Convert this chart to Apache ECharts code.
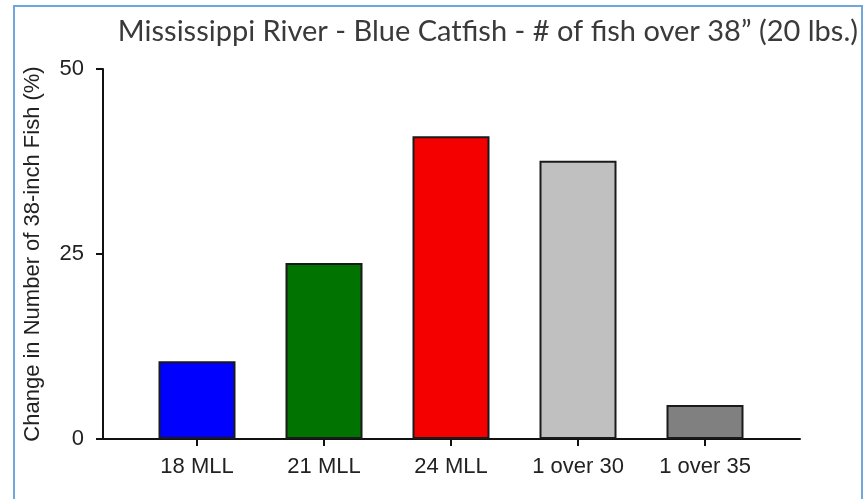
<!DOCTYPE html>
<html>
<head>
<meta charset="utf-8">
<script src="https://cdn.jsdelivr.net/npm/echarts@6/dist/echarts.min.js"></script>
<style>
  html, body { margin: 0; padding: 0; background: #fff; }
  #chart { width: 864px; height: 499px; }
</style>
</head>
<body>
<div id="chart"></div>
<script>
var categories = ['18 MLL', '21 MLL', '24 MLL', '1 over 30', '1 over 35'];
var values = [10.5, 23.8, 40.9, 37.6, 4.6];
var barColors = ['#0000ff', '#007300', '#f50000', '#c0c0c0', '#808080'];
var yTicks = [0, 25, 50];

var dom = document.getElementById('chart');
var myChart = echarts.init(dom, null, { renderer: 'canvas' });

var option = {
  animation: false,
  title: {
    text: 'Mississippi River - Blue Catfish - # of fish over 38\u201D (20 lbs.)',
    right: 1,
    top: 12,
    textStyle: {
      fontFamily: 'Lato',
      fontWeight: 'normal',
      fontSize: 29,
      color: '#3a3a3a'
    }
  },
  graphic: [{
    type: 'rect',
    shape: { x: 14, y: 6, width: 848, height: 520 },
    style: { fill: 'none', stroke: '#6ea6e0', lineWidth: 2 },
    silent: true
  }],
  grid: [
    { left: 103, right: 64, top: 69, bottom: 60 },
    { left: 133.5, right: 95.5, top: 69, bottom: 60 }
  ],
  xAxis: [{
    gridIndex: 0,
    type: 'value',
    min: 0,
    max: 1,
    axisLine: { show: true, lineStyle: { color: '#111', width: 2 } },
    axisTick: { show: false },
    axisLabel: { show: false },
    splitLine: { show: false }
  }, {
    gridIndex: 1,
    type: 'category',
    data: categories,
    axisLine: { show: false },
    axisTick: { show: true, alignWithLabel: true, length: 7, lineStyle: { color: '#111', width: 2 } },
    axisLabel: {
      margin: 17,
      fontFamily: 'Liberation Sans',
      fontSize: 22,
      color: '#222'
    }
  }],
  yAxis: [{
    gridIndex: 0,
    type: 'value',
    min: yTicks[0],
    max: yTicks[yTicks.length - 1],
    interval: yTicks[1] - yTicks[0],
    name: 'Change in Number of 38-inch Fish (%)',
    nameLocation: 'middle',
    nameRotate: 90,
    nameGap: 59,
    nameTextStyle: {
      fontFamily: 'Liberation Sans',
      fontSize: 22,
      color: '#222'
    },
    axisLine: { show: true, lineStyle: { color: '#111', width: 2 } },
    axisTick: { show: true, length: 7, lineStyle: { color: '#111', width: 2 } },
    axisLabel: {
      margin: 19,
      fontFamily: 'Liberation Sans',
      fontSize: 22,
      color: '#222'
    },
    splitLine: { show: false }
  }, {
    gridIndex: 1,
    type: 'value',
    min: yTicks[0],
    max: yTicks[yTicks.length - 1],
    show: false
  }],
  series: [{
    type: 'bar',
    xAxisIndex: 1,
    yAxisIndex: 1,
    barWidth: 77,
    data: values.map(function (v, i) {
      return { value: v, itemStyle: { color: barColors[i] } };
    }),
    itemStyle: { borderColor: '#1a1a1a', borderWidth: 2 }
  }]
};

myChart.setOption(option);
window.addEventListener('resize', myChart.resize);
</script>
</body>
</html>
